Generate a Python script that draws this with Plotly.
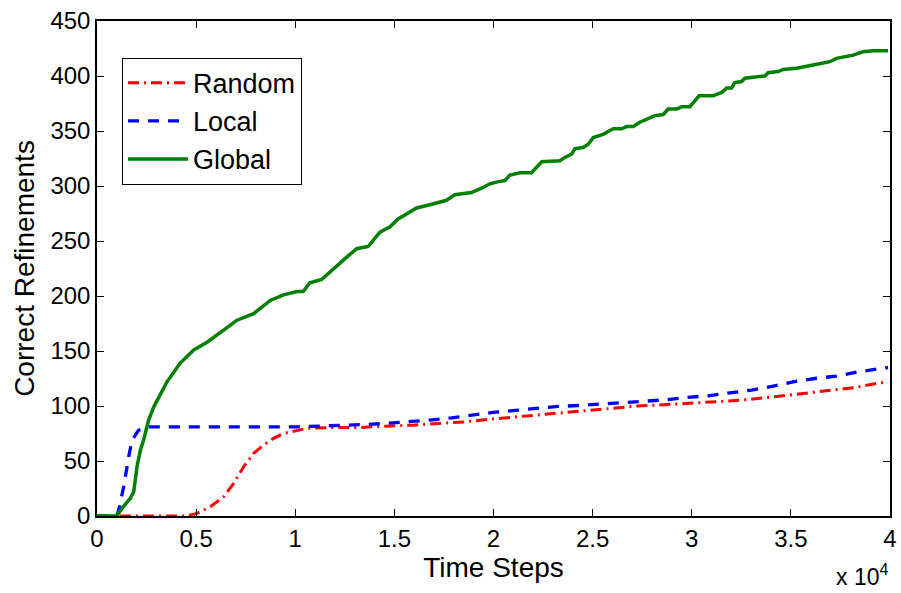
import plotly.graph_objects as go

# ---- data (time steps, correct refinements) ----
t_random = [0, 4500, 5040, 5720, 6390, 6890, 7400, 7900, 8400, 8910,
            9410, 10090, 10570, 11920, 13260, 14610, 15950, 17210, 18560, 19900,
            21170, 22510, 23690, 25030, 25870, 27220, 28900, 30410, 31760, 32930,
            34440, 35620, 36970, 38140, 39490, 39900]
v_random = [0, 0, 2.4, 8.5, 17.5, 29.7, 44.8, 56.9, 64.5, 70.6,
            75, 78, 79.6, 80.5, 80.5, 81.7, 82.6, 84.2, 85.6, 88.1,
            90.2, 92.6, 94.5, 96.9, 97.8, 99.9, 101.5, 102.9, 104.4, 106,
            109, 111.4, 114.4, 116.5, 121, 122]

t_local = [0, 1000, 1090, 1350, 1600, 1770, 2100, 2520, 10000, 11410,
           12510, 13520, 14610, 15700, 16790, 17890, 18980, 19990, 21080, 22170,
           23260, 24360, 25450, 26540, 27550, 28650, 29740, 30830, 31920, 33020,
           34110, 35120, 36210, 37300, 38390, 39570, 39900]
v_local = [0, 0, 5, 27, 54, 69, 78, 81, 81, 81.7,
           82.3, 83.2, 84.2, 85.4, 87.2, 89.3, 92, 94.2, 96, 97.8,
           99.6, 100.5, 101.7, 103.2, 104.4, 105.6, 107.8, 109.3, 112, 114.4,
           118, 122, 125, 127.2, 131, 134.1, 135]

t_global = [0, 1000, 1260, 1680, 1850, 2020, 2190, 2350, 2600, 2860,
            3530, 4200, 4880, 5550, 6390, 7060, 7900, 8740, 9410, 10090,
            10400, 10740, 11330, 11920, 12510, 13100, 13680, 14270, 14780, 15190,
            16120, 16790, 17630, 18050, 18890, 19400, 19820, 20240, 20580, 20830,
            21330, 21920, 22430, 23350, 23600, 23940, 24110, 24520, 24780, 25030,
            25530, 26040, 26460, 26710, 27050, 27380, 27720, 28140, 28560, 28810,
            29230, 29490, 29900, 30070, 30370, 31080, 31510, 31760, 32010, 32170,
            32510, 32680, 33690, 33850, 34360, 34610, 35290, 36120, 36970, 37300,
            38140, 38640, 39150, 39900]
v_global = [0, 0, 7, 16, 22, 45, 60, 69, 87, 99,
            122, 139, 151, 158, 169, 178, 184, 196, 201, 204,
            204, 212, 215, 225, 234, 243, 245, 258, 263, 270,
            280, 283, 287, 292, 294, 298, 302, 304, 305, 310,
            312, 312, 322, 323, 326, 329, 334, 335, 338, 344,
            347, 352, 352, 354, 354, 358, 361, 364, 365, 370,
            370, 372, 372, 376, 382, 382, 385, 389, 389, 394,
            395, 398, 400, 403, 404, 406, 407, 410, 413, 416,
            419, 422, 423, 423]

x_tickvals = [0, 5000, 10000, 15000, 20000, 25000, 30000, 35000, 40000]
x_ticktext = ["0", "0.5", "1", "1.5", "2", "2.5", "3", "3.5", "4"]
y_tickvals = [0, 50, 100, 150, 200, 250, 300, 350, 400, 450]

FONT = "Liberation Sans, Arial, Helvetica, sans-serif"

fig = go.Figure()
fig.add_trace(go.Scatter(x=t_random, y=v_random, mode="lines", name="Random",
                         line=dict(color="#FF0000", width=3, dash="11px,5px,2px,5px")))
fig.add_trace(go.Scatter(x=t_local, y=v_local, mode="lines", name="Local",
                         line=dict(color="#0000FF", width=3.3, dash="11px,9px")))
fig.add_trace(go.Scatter(x=t_global, y=v_global, mode="lines", name="Global",
                         line=dict(color="#008000", width=3.5)))

axis_common = dict(showline=True, linecolor="black", linewidth=1.5, mirror="ticks",
                   ticks="inside", ticklen=7, tickwidth=1, tickcolor="black",
                   showgrid=False, zeroline=False, automargin=False,
                   tickfont=dict(family=FONT, size=24, color="black"))

fig.update_xaxes(range=[0, 40000], tickvals=x_tickvals, ticktext=x_ticktext,
                 title=dict(text="Time Steps", font=dict(family=FONT, size=28, color="black"),
                            standoff=0),
                 **axis_common)
fig.update_yaxes(range=[0, 450], tickvals=y_tickvals,
                 title=dict(text="Correct Refinements", font=dict(family=FONT, size=28, color="black"),
                            standoff=8),
                 **axis_common)

fig.add_annotation(text="x 10<sup>4</sup>", xref="paper", yref="paper", x=1.0, y=0,
                   xanchor="right", yanchor="top", yshift=-42, showarrow=False,
                   font=dict(family=FONT, size=23, color="black"))

fig.update_layout(
    width=901, height=593,
    margin=dict(l=97, r=11, t=21, b=77),
    paper_bgcolor="white", plot_bgcolor="white",
    font=dict(family=FONT, color="black"),
    showlegend=True,
    legend=dict(x=0.0315, y=0.926, xanchor="left", yanchor="top",
                bgcolor="white", bordercolor="black", borderwidth=1,
                font=dict(family=FONT, size=27, color="black"),
                tracegroupgap=0, itemwidth=60),
)

fig.write_html("out.html")
